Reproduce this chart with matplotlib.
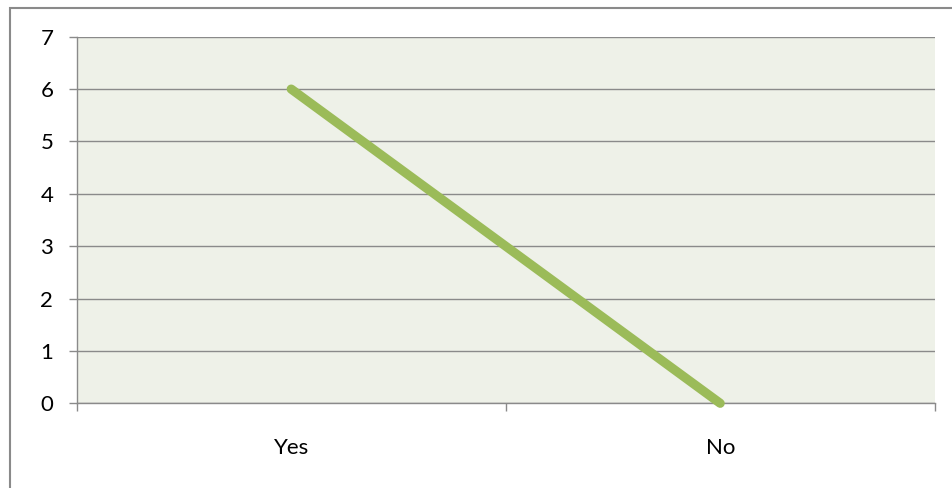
import matplotlib
matplotlib.use("Agg")
import matplotlib.pyplot as plt
from matplotlib.patches import Rectangle

categories = ["Yes", "No"]
values = [6, 0]
yticks = [0, 1, 2, 3, 4, 5, 6, 7]

W, H = 952, 488
fig = plt.figure(figsize=(W / 100, H / 100), dpi=100)
plt.rcParams['font.family'] = ['Lato', 'DejaVu Sans']

ax = fig.add_axes([76.7 / W, 1 - 403.3 / H, (934.7 - 76.7) / W, (403.3 - 36.7) / H])
ax.set_facecolor('#EEF1E8')

xs = list(range(len(categories)))
ax.plot(xs, values, color='#9BBB59', linewidth=6.6, solid_capstyle='round', zorder=3, clip_on=False)

ax.set_xlim(-0.5, len(categories) - 0.5)
ax.set_ylim(0, 7)
ax.set_yticks(yticks)
ax.set_yticklabels([str(v) for v in yticks])
ax.set_xticks([i - 0.5 for i in range(len(categories) + 1)])
ax.set_xticklabels([])
ax.set_xticks(xs, minor=True)
ax.set_xticklabels(categories, minor=True)

grid_c = '#8A8A8A'
ax.yaxis.grid(True, color=grid_c, linewidth=1.0)
ax.set_axisbelow(True)
for s in ['top', 'right']:
    ax.spines[s].set_visible(False)
for s in ['left', 'bottom']:
    ax.spines[s].set_color(grid_c)
    ax.spines[s].set_linewidth(1.0)

fs = 16
ax.tick_params(axis='y', which='major', direction='out', length=5.8, width=1.0, color=grid_c,
               labelsize=fs, pad=11, labelcolor='black')
ax.tick_params(axis='x', which='major', direction='out', length=5.8, width=1.0, color=grid_c)
ax.tick_params(axis='x', which='minor', length=0, labelsize=fs, pad=25, labelcolor='black')

border = Rectangle((9.5 / W, -0.1), 1.2, 1 - 7.5 / H + 0.1, transform=fig.transFigure,
                   fill=False, edgecolor='#8A8A8A', linewidth=1.5)
fig.patches.append(border)

fig.savefig("out.png", dpi=100)
